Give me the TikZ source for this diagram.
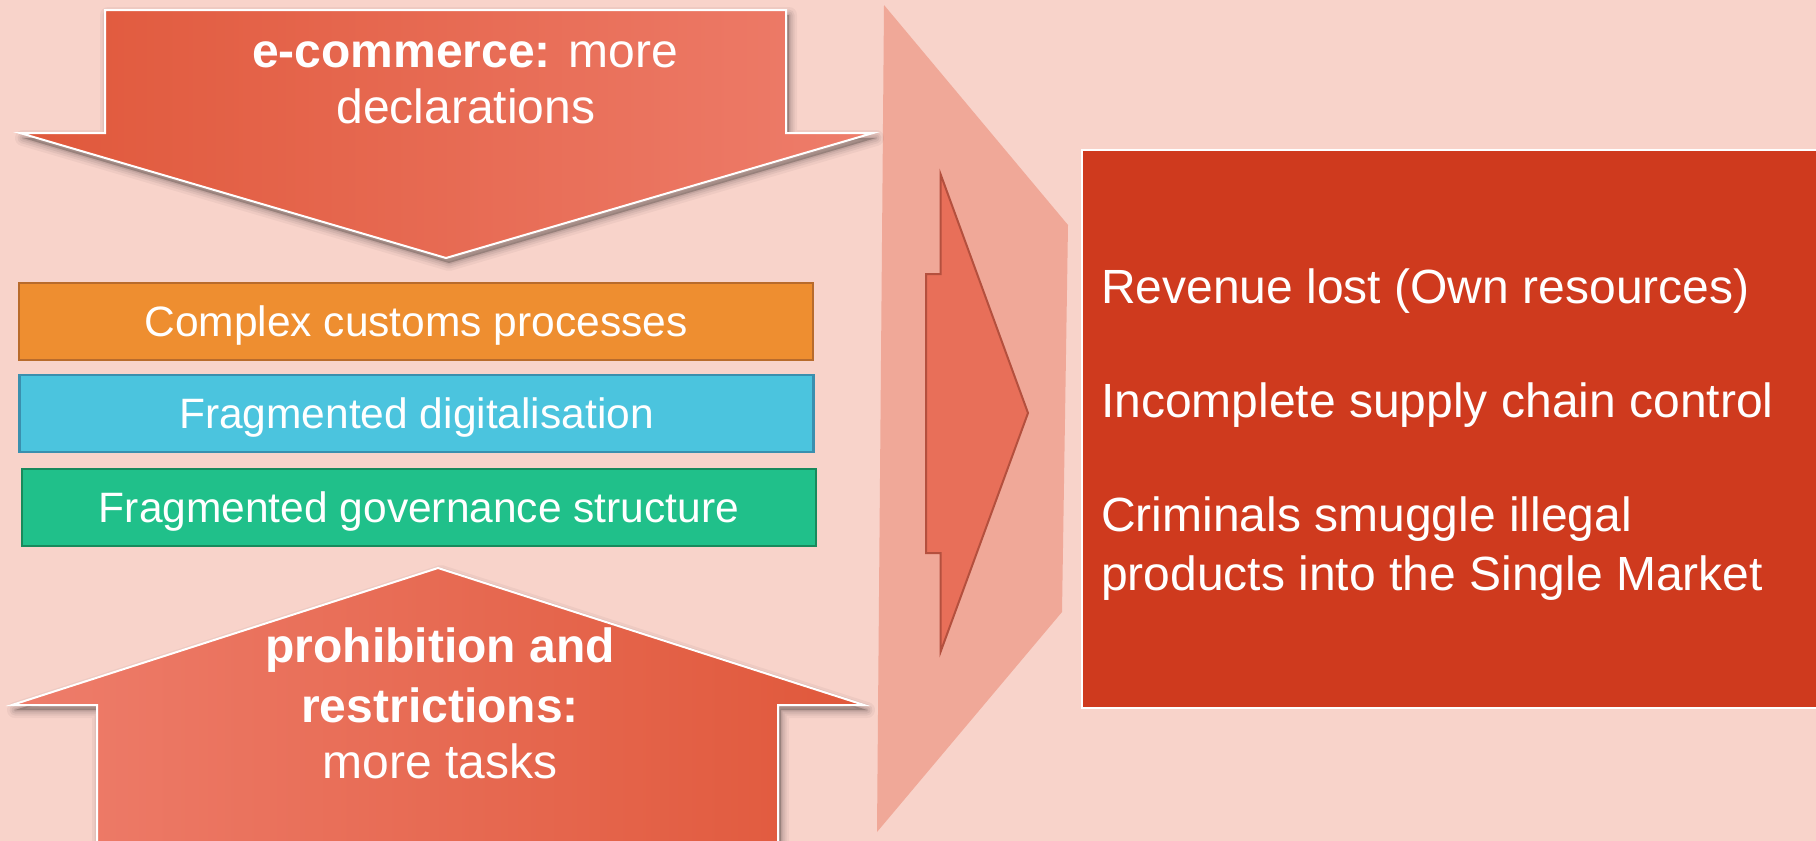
\documentclass[tikz,border=0pt]{standalone}
\usepackage{fontspec}
\setmainfont{Liberation Sans}
\definecolor{bg}{HTML}{F8D3CA}
\definecolor{arrowdark}{HTML}{E0583B}
\definecolor{arrowlight}{HTML}{EE7D6B}
\definecolor{chevron}{HTML}{F0A898}
\definecolor{innerfill}{HTML}{E86F59}
\definecolor{innerline}{HTML}{B4503E}
\definecolor{redbox}{HTML}{CF3A1E}
\definecolor{orangefill}{HTML}{EE8E30}
\definecolor{orangeline}{HTML}{B86B2C}
\definecolor{bluefill}{HTML}{4BC4DE}
\definecolor{blueline}{HTML}{3B8FAE}
\definecolor{greenfill}{HTML}{20C08A}
\definecolor{greenline}{HTML}{178A5C}
\tikzset{
  bigarrow/.style={draw=white, line width=2pt, line join=miter},
  shadowlayer/.style={fill=black, draw=black, line join=round},
  issuebox/.style={rectangle, minimum width=794pt, minimum height=77pt, line width=2.5pt,
    text=white, font=\fontsize{42.5}{51}\selectfont, text height=30.4pt, text depth=0pt, inner sep=0pt},
  arrowtxt/.style={text=white, font=\fontsize{48}{57}\selectfont, inner sep=0pt, anchor=base},
  effecttxt/.style={text=white, font=\fontsize{48}{59}\selectfont, inner sep=0pt, anchor=base west},
}
\begin{document}
\begin{tikzpicture}[x=1pt, y=-1pt]
\useasboundingbox (0,0) rectangle (1816,841);
\clip (0,0) rectangle (1816,841);
\fill[bg] (0,0) rectangle (1816,841);

% big chevron
\fill[chevron] (884,5) -- (1068,225) -- (1062,612) -- (877,832) -- cycle;
% inner arrow
\draw[fill=innerfill, draw=innerline, line width=2pt]
  (940.5,174) -- (1028,413) -- (940.5,652) -- (940.5,553) -- (926,553) -- (926,274) -- (940.5,274) -- cycle;

% red effects box
\node[draw=white, fill=redbox, line width=1.5pt, rectangle, anchor=north west,
      minimum width=760pt, minimum height=558pt, inner sep=0pt] (effects) at (1081,149) {};
\node[effecttxt] (e1) at (1101,303) {Revenue lost (Own resources)};
\node[effecttxt] (e2) at (1101,417) {Incomplete supply chain control};
\node[effecttxt] (e3) at (1101,531) {Criminals smuggle illegal};
\node[effecttxt] (e4) at (1101,590) {products into the Single Market};

% shadows of the two big arrows
\begin{scope}[shift={(3,5)}]
  \foreach \w/\o in {16/0.04, 11/0.05, 7/0.06, 3/0.08} {
    \filldraw[shadowlayer, opacity=\o, line width=\w pt]
      (105,10) -- (786,10) -- (786,133) -- (873,133) -- (446,258) -- (20,133) -- (105,133) -- cycle;
    \filldraw[shadowlayer, opacity=\o, line width=\w pt]
      (438,568) -- (864,705) -- (778,705) -- (778,860) -- (97,860) -- (97,705) -- (12,705) -- cycle;
  }
\end{scope}

% top arrow
\path[bigarrow, left color=arrowdark, right color=arrowlight]
  (105,10) -- (786,10) -- (786,133) -- (873,133) -- (446,258) -- (20,133) -- (105,133) -- cycle;
\node[arrowtxt] (top1) at (465,67) {\textbf{e-commerce:} more};
\node[arrowtxt] (top2) at (466,123) {declarations};

% bottom arrow
\path[bigarrow, left color=arrowlight, right color=arrowdark]
  (438,568) -- (864,705) -- (778,705) -- (778,860) -- (97,860) -- (97,705) -- (12,705) -- cycle;
\node[arrowtxt] (bot1) at (440,662) {\textbf{prohibition and}};
\node[arrowtxt] (bot2) at (440,722) {\textbf{restrictions:}};
\node[arrowtxt] (bot3) at (440,778) {more tasks};

% issue boxes
\node[issuebox, fill=orangefill, draw=orangeline] (complex) at (416,321.5) {Complex customs processes};
\node[issuebox, fill=bluefill, draw=blueline] (digital) at (416.5,413.5) {Fragmented digitalisation};
\node[issuebox, fill=greenfill, draw=greenline] (govern) at (419,507.5) {Fragmented governance structure};
\end{tikzpicture}
\end{document}
